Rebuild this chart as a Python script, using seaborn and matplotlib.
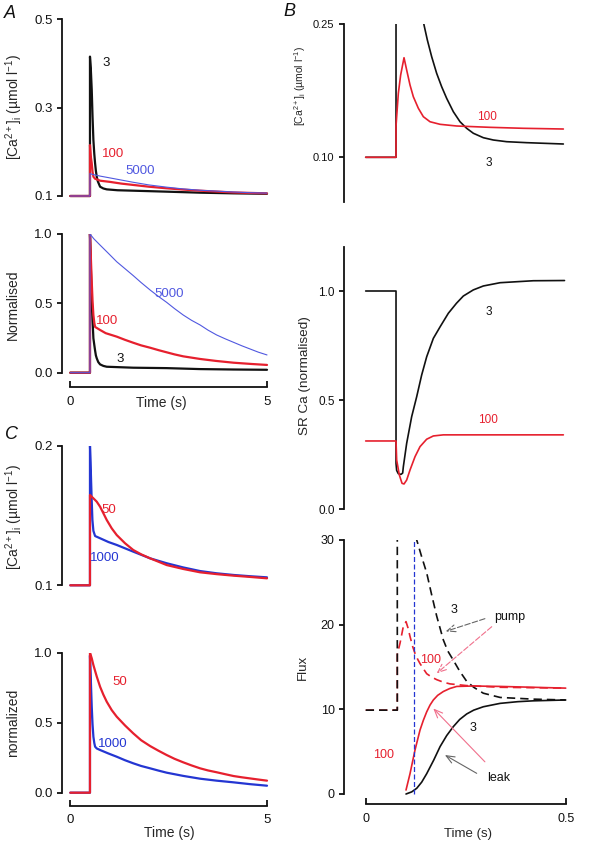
"""
Ca2+ transient simulations: panels A, B and C
Recreated as a multi-axes seaborn/matplotlib figure, saved to out.png.
"""

import matplotlib
matplotlib.use("Agg")
import matplotlib.pyplot as plt
import seaborn as sns

# ── Data ─────────────────────────────────────────────────────────────────────

# Panel A, top: [Ca2+]i (umol/l) vs time (s)
A_TOP_T_3 = [0, 0.5, 0.5, 0.52, 0.545, 0.565, 0.587, 0.61, 0.63, 0.65, 0.672, 0.70, 0.757, 0.84, 0.926,
             1.2, 1.6, 2.45, 3.3, 4.15, 5.0]
A_TOP_Y_3 = [0.1, 0.1, 0.415, 0.39, 0.34, 0.28, 0.2265, 0.195, 0.174, 0.157, 0.1436, 0.133, 0.121, 0.117,
             0.115, 0.113, 0.112, 0.1098, 0.1075, 0.106, 0.105]
A_TOP_T_100 = [0, 0.5, 0.5, 0.52, 0.545, 0.565, 0.587, 0.63, 0.672, 0.757, 1.0, 1.3, 1.6, 2.0, 2.45, 2.87,
               3.3, 3.72, 4.15, 4.57, 5.0]
A_TOP_Y_100 = [0.1, 0.1, 0.215, 0.19, 0.174, 0.155, 0.1436, 0.139, 0.1376, 0.1346, 0.132, 0.128, 0.125,
               0.121, 0.1174, 0.1145, 0.112, 0.110, 0.108, 0.107, 0.106]
A_TOP_T_5000 = [0, 0.5, 0.5, 0.55, 0.757, 1.0, 1.3, 1.6, 2.0, 2.45, 2.87, 3.3, 3.72, 4.15, 4.57, 5.0]
A_TOP_Y_5000 = [0.1, 0.1, 0.151, 0.149, 0.145, 0.141, 0.136, 0.131, 0.125, 0.12, 0.116, 0.113, 0.111,
                0.109, 0.1075, 0.1065]

# Panel A, bottom: normalised transients
A_BOT_T_3 = [0, 0.5, 0.5, 0.52, 0.545, 0.565, 0.587, 0.61, 0.63, 0.65, 0.672, 0.71, 0.757, 0.84, 0.926,
             1.6, 2.45, 3.3, 4.15, 5.0]
A_BOT_Y_3 = [0, 0, 1.0, 0.78, 0.536, 0.38, 0.248, 0.2, 0.16, 0.125, 0.104, 0.077, 0.06, 0.049, 0.043,
             0.036, 0.033, 0.026, 0.023, 0.021]
A_BOT_T_100 = [0, 0.5, 0.5, 0.52, 0.545, 0.565, 0.587, 0.61, 0.63, 0.757, 0.9, 1.18, 1.39, 1.6, 1.8, 2.03,
               2.25, 2.45, 2.65, 2.87, 3.3, 3.7, 4.15, 4.6, 5.0]
A_BOT_Y_100 = [0, 0, 1.0, 0.85, 0.656, 0.52, 0.416, 0.36, 0.33, 0.308, 0.285, 0.26, 0.237, 0.216, 0.197,
               0.18, 0.162, 0.147, 0.132, 0.118, 0.099, 0.085, 0.072, 0.063, 0.056]
A_BOT_T_5000 = [0, 0.5, 0.5, 0.6, 0.757, 0.97, 1.18, 1.39, 1.6, 1.8, 2.03, 2.24, 2.45, 2.65, 2.87, 3.08,
                3.3, 3.5, 3.72, 3.94, 4.15, 4.36, 4.57, 4.78, 5.0]
A_BOT_Y_5000 = [0, 0, 1.0, 0.965, 0.92, 0.86, 0.80, 0.75, 0.70, 0.65, 0.596, 0.55, 0.507, 0.462, 0.416,
                0.378, 0.344, 0.307, 0.272, 0.244, 0.219, 0.194, 0.171, 0.148, 0.128]

# Panel C, top: [Ca2+]i (umol/l)
C_TOP_T_50 = [0, 0.5, 0.5, 0.587, 0.672, 0.757, 0.841, 0.926, 1.053, 1.18, 1.392, 1.6, 1.8, 2.03, 2.45,
              2.87, 3.3, 3.72, 4.15, 4.57, 5.0]
C_TOP_Y_50 = [0.1, 0.1, 0.1647, 0.1623, 0.1599, 0.1563, 0.1516, 0.1468, 0.1408, 0.136, 0.1301, 0.1253,
              0.1222, 0.1193, 0.1145, 0.1117, 0.1093, 0.108, 0.1069, 0.106, 0.105]
C_TOP_T_1000 = [0, 0.5, 0.5, 0.515, 0.528, 0.545, 0.562, 0.587, 0.63, 0.757, 0.97, 1.18, 1.39, 1.6, 2.03,
                2.45, 2.87, 3.3, 3.72, 4.15, 4.57, 5.0]
C_TOP_Y_1000 = [0.1, 0.1, 0.2, 0.188, 0.1754, 0.16, 0.1468, 0.139, 0.1353, 0.1337, 0.131, 0.1289, 0.1265,
                0.1241, 0.1193, 0.1158, 0.1128, 0.1102, 0.1086, 0.1074, 0.1065, 0.1057]

# Panel C, bottom: normalised
C_BOT_T_50 = [0, 0.5, 0.5, 0.545, 0.587, 0.672, 0.757, 0.841, 0.926, 1.053, 1.18, 1.392, 1.6, 1.8, 2.03,
              2.24, 2.45, 2.65, 2.87, 3.08, 3.3, 3.5, 3.72, 3.94, 4.15, 4.36, 4.57, 4.78, 5.0]
C_BOT_Y_50 = [0, 0, 1.0, 0.96, 0.912, 0.83, 0.757, 0.70, 0.65, 0.59, 0.543, 0.48, 0.424, 0.375, 0.333,
              0.30, 0.269, 0.242, 0.217, 0.195, 0.174, 0.159, 0.146, 0.132, 0.119, 0.110, 0.102, 0.094, 0.086]
C_BOT_T_1000 = [0, 0.5, 0.5, 0.52, 0.545, 0.565, 0.587, 0.61, 0.63, 0.672, 0.757, 0.97, 1.18, 1.39, 1.6,
                1.8, 2.03, 2.24, 2.45, 2.87, 3.3, 3.72, 4.15, 4.57, 5.0]
C_BOT_Y_1000 = [0, 0, 0.98, 0.82, 0.614, 0.49, 0.4, 0.355, 0.329, 0.316, 0.305, 0.28, 0.257, 0.232, 0.21,
                0.191, 0.174, 0.158, 0.143, 0.12, 0.1, 0.086, 0.074, 0.061, 0.05]

# Panel B, top: [Ca2+]i (umol/l), first 0.5 s
B_TOP_T_3 = [0, 0.0758, 0.0758, 0.09, 0.11, 0.13, 0.1458, 0.1541, 0.1649, 0.1774, 0.1899, 0.2024, 0.2191,
             0.2358, 0.2524, 0.2691, 0.2941, 0.3191, 0.3524, 0.4024, 0.4941]
B_TOP_Y_3 = [0.1, 0.1, 0.40, 0.41, 0.36, 0.29, 0.2492, 0.2323, 0.2135, 0.1947, 0.1796, 0.1665, 0.1514,
             0.1401, 0.1327, 0.1271, 0.1221, 0.1195, 0.1176, 0.1165, 0.115]
B_TOP_T_100 = [0, 0.0758, 0.0758, 0.0774, 0.0816, 0.0874, 0.0958, 0.1024, 0.1108, 0.1191, 0.1316, 0.1441,
               0.1608, 0.1858, 0.2274, 0.3108, 0.3941, 0.4941]
B_TOP_Y_100 = [0.1, 0.1, 0.135, 0.1458, 0.1722, 0.1928, 0.2123, 0.1985, 0.1815, 0.1683, 0.1553, 0.1458,
               0.1401, 0.1372, 0.1353, 0.1338, 0.1327, 0.1319]

# Panel B, middle: SR Ca (normalised)
B_MID_T_3 = [0, 0.0758, 0.0758, 0.0774, 0.0816, 0.0883, 0.0924, 0.0941, 0.1024, 0.1149, 0.1275, 0.1399,
             0.1525, 0.1691, 0.186, 0.2066, 0.227, 0.2441, 0.269, 0.2941, 0.336, 0.419, 0.497]
B_MID_Y_3 = [1.0, 1.0, 0.21, 0.178, 0.163, 0.160, 0.166, 0.195, 0.302, 0.424, 0.516, 0.615, 0.699, 0.783,
             0.836, 0.898, 0.944, 0.977, 1.005, 1.023, 1.038, 1.047, 1.048]
B_MID_T_100 = [0, 0.0758, 0.0774, 0.0841, 0.0908, 0.0958, 0.1024, 0.1108, 0.1233, 0.1358, 0.1524, 0.1691,
               0.1941, 0.4941]
B_MID_Y_100 = [0.313, 0.313, 0.226, 0.157, 0.119, 0.116, 0.134, 0.18, 0.241, 0.287, 0.321, 0.336, 0.341,
               0.341]

# Panel B, bottom: fluxes (pump dashed, leak solid)
B_PUMP_T_3 = [0, 0.079, 0.079, 0.10, 0.115, 0.1275, 0.14, 0.1525, 0.165, 0.1775, 0.194, 0.205, 0.219,
              0.235, 0.2525, 0.27, 0.294, 0.336, 0.419, 0.5]
B_PUMP_Y_3 = [9.9, 9.9, 60, 45, 36, 30, 28.0, 26.1, 23.5, 21, 18.2, 16.9, 15.8, 14.5, 13.3, 12.6, 11.9,
              11.4, 11.2, 11.1]
B_PUMP_T_100 = [0, 0.079, 0.079, 0.0858, 0.0941, 0.1008, 0.1058, 0.1108, 0.1175, 0.1233, 0.13, 0.1358,
                0.144, 0.1525, 0.165, 0.1775, 0.1941, 0.2108, 0.2525, 0.336, 0.5]
B_PUMP_Y_100 = [9.9, 9.9, 16.5, 17.8, 19.8, 20.35, 19.6, 18.6, 17.4, 16.6, 15.9, 15.4, 14.8, 14.2, 13.8,
                13.5, 13.2, 13.0, 12.8, 12.6, 12.5]
B_LEAK_T_3 = [0.1008, 0.115, 0.1275, 0.14, 0.1525, 0.17, 0.186, 0.2025, 0.219, 0.235, 0.2525, 0.27, 0.294,
              0.336, 0.38, 0.419, 0.5]
B_LEAK_Y_3 = [0, 0.25, 0.67, 1.4, 2.4, 4.0, 5.6, 6.9, 7.95, 8.8, 9.45, 9.9, 10.3, 10.7, 10.9, 11.0, 11.1]
B_LEAK_T_100 = [0.1008, 0.1108, 0.1233, 0.1358, 0.1441, 0.1525, 0.1608, 0.1691, 0.18, 0.1941, 0.21, 0.2275,
                0.2691, 0.336, 0.5]
B_LEAK_Y_100 = [0.47, 2.4, 5.2, 7.55, 8.7, 9.7, 10.5, 11.1, 11.65, 12.1, 12.45, 12.7, 12.75, 12.7, 12.5]
B_MARK_T = [0.12, 0.12]
B_MARK_Y = [0, 30]

# ── Style ────────────────────────────────────────────────────────────────────

sns.set_style("ticks")
plt.rcParams["font.family"] = ["Liberation Sans", "DejaVu Sans"]
plt.rcParams["mathtext.fontset"] = "custom"
plt.rcParams["mathtext.rm"] = "Liberation Sans"
plt.rcParams["mathtext.it"] = "Liberation Sans:italic"
plt.rcParams["mathtext.default"] = "regular"

BLACK = "#111111"
RED = "#e6202e"
BLUE_A = "#5058e0"
BLUE_C = "#2436d2"
PINK = "#f0708c"
GREY = "#666666"

W, H = 602, 842
CA_LABEL = "[Ca$^{2+}$]$_{i}$ (µmol l$^{-1}$)"

fig = plt.figure(figsize=(W / 100, H / 100), dpi=100)


def make_axes(xlim, ylim, x0px, xs, y0px, y0val, ys):
    """Place an axes so that data maps onto the reference pixel grid."""
    l = x0px + xlim[0] * xs
    r = x0px + xlim[1] * xs
    t = y0px - (ylim[1] - y0val) * ys
    b = y0px - (ylim[0] - y0val) * ys
    ax = fig.add_axes([l / W, 1 - b / H, (r - l) / W, (b - t) / H])
    ax.set_xlim(*xlim)
    ax.set_ylim(*ylim)
    ax.set_facecolor("none")
    sns.despine(ax=ax)
    for s in ("left", "bottom"):
        ax.spines[s].set_linewidth(1.3)
        ax.spines[s].set_color(BLACK)
    ax.tick_params(width=1.3, length=3.5, color=BLACK, labelcolor=BLACK)
    ax._px = (l, t, r, b)
    return ax


def no_xaxis(ax):
    ax.spines["bottom"].set_visible(False)
    ax.set_xticks([])


def set_ylabel_px(ax, text, fs, cx, cy):
    l, t, r, b = ax._px
    ax.set_ylabel(text, fontsize=fs)
    ax.yaxis.set_label_coords((cx - l) / (r - l), (b - cy) / (b - t))
    ax.yaxis.label.set_va("center")


def set_xlabel_px(ax, cx, cy):
    l, t, r, b = ax._px
    ax.xaxis.set_label_coords((cx - l) / (r - l), (b - cy) / (b - t))
    ax.xaxis.label.set_va("center")


def time_axis(ax, ticks, labels, fs, label_px):
    ax.spines["bottom"].set_bounds(ticks[0], ticks[-1])
    ax.set_xticks(ticks, labels)
    ax.tick_params(axis="x", direction="in", length=4.5, labelsize=fs, pad=6)
    ax.set_xlabel("Time (s)", fontsize=fs + 0.5)
    set_xlabel_px(ax, *label_px)


def line(ax, t, y, color, lw, ls="-"):
    sns.lineplot(x=t, y=y, ax=ax, color=color, linewidth=lw, linestyle=ls,
                 estimator=None, sort=False, legend=False)


def arrow(ax, head, tail, color, ls="-"):
    ax.annotate("", xy=head, xytext=tail,
                arrowprops=dict(arrowstyle="->,head_length=0.6,head_width=0.25",
                                color=color, lw=0.8, linestyle=ls,
                                shrinkA=0, shrinkB=0))


# ── Panel A ──────────────────────────────────────────────────────────────────

FS = 9.5
ax = make_axes((-0.2, 5.1), (0.09, 0.5), 70.3, 39.34, 196, 0.1, 442.5)
line(ax, A_TOP_T_3, A_TOP_Y_3, BLACK, 1.6)
line(ax, A_TOP_T_100, A_TOP_Y_100, RED, 1.6)
line(ax, A_TOP_T_5000, A_TOP_Y_5000, BLUE_A, 0.8)
no_xaxis(ax)
ax.spines["left"].set_bounds(0.1, 0.5)
ax.set_yticks([0.1, 0.3, 0.5], ["0.1", "0.3", "0.5"])
ax.tick_params(axis="y", labelsize=FS)
set_ylabel_px(ax, CA_LABEL, 10, 14, 107)
ax.text(0.92, 0.40, "3", color=BLACK, fontsize=FS, ha="center", va="center")
ax.text(1.08, 0.196, "100", color=RED, fontsize=FS, ha="center", va="center")
ax.text(1.77, 0.157, "5000", color=BLUE_A, fontsize=FS, ha="center", va="center")

ax = make_axes((-0.2, 5.1), (-0.105, 1.0), 70.3, 39.34, 372.7, 0.0, 138.7)
line(ax, A_BOT_T_3, A_BOT_Y_3, BLACK, 1.6)
line(ax, A_BOT_T_100, A_BOT_Y_100, RED, 1.6)
line(ax, A_BOT_T_5000, A_BOT_Y_5000, BLUE_A, 0.8)
ax.spines["left"].set_bounds(0, 1.0)
ax.set_yticks([0, 0.5, 1.0], ["0.0", "0.5", "1.0"])
ax.tick_params(axis="y", labelsize=FS)
time_axis(ax, [0, 5], ["0", "5"], FS, (161, 403))
set_ylabel_px(ax, "Normalised", 10, 13, 305)
ax.text(2.52, 0.565, "5000", color=BLUE_A, fontsize=FS, ha="center", va="center")
ax.text(0.94, 0.37, "100", color=RED, fontsize=FS, ha="center", va="center")
ax.text(1.26, 0.1, "3", color=BLACK, fontsize=FS, ha="center", va="center")

# ── Panel C ──────────────────────────────────────────────────────────────────

ax = make_axes((-0.2, 5.1), (0.095, 0.2), 70.3, 39.34, 585.3, 0.1, 1396)
line(ax, C_TOP_T_1000, C_TOP_Y_1000, BLUE_C, 1.6)
line(ax, C_TOP_T_50, C_TOP_Y_50, RED, 1.6)
no_xaxis(ax)
ax.spines["left"].set_bounds(0.1, 0.2)
ax.set_yticks([0.1, 0.2], ["0.1", "0.2"])
ax.tick_params(axis="y", labelsize=FS)
set_ylabel_px(ax, CA_LABEL, 10, 14, 517)
ax.text(0.99, 0.1539, "50", color=RED, fontsize=FS, ha="center", va="center")
ax.text(0.88, 0.1194, "1000", color=BLUE_C, fontsize=FS, ha="center", va="center")

ax = make_axes((-0.2, 5.1), (-0.093, 1.0), 70.3, 39.34, 792.7, 0.0, 140)
line(ax, C_BOT_T_1000, C_BOT_Y_1000, BLUE_C, 1.6)
line(ax, C_BOT_T_50, C_BOT_Y_50, RED, 1.6)
ax.spines["left"].set_bounds(0, 1.0)
ax.set_yticks([0, 0.5, 1.0], ["0.0", "0.5", "1.0"])
ax.tick_params(axis="y", labelsize=FS)
time_axis(ax, [0, 5], ["0", "5"], FS, (169, 833))
set_ylabel_px(ax, "normalized", 10, 13, 723)
ax.text(1.26, 0.79, "50", color=RED, fontsize=FS, ha="center", va="center")
ax.text(1.08, 0.345, "1000", color=BLUE_C, fontsize=FS, ha="center", va="center")

# ── Panel B ──────────────────────────────────────────────────────────────────

FSB = 8.5
BX = ((-0.0535, 0.51), 365.7, 400)

ax = make_axes(BX[0], (0.05, 0.25), BX[1], BX[2], 157.3, 0.10, 886.7)
line(ax, B_TOP_T_3, B_TOP_Y_3, BLACK, 1.2)
line(ax, B_TOP_T_100, B_TOP_Y_100, RED, 1.2)
no_xaxis(ax)
ax.set_yticks([0.10, 0.25], ["0.10", "0.25"])
ax.tick_params(axis="y", labelsize=FSB - 0.5)
set_ylabel_px(ax, CA_LABEL, 7.5, 300, 86)
ax.text(0.3027, 0.1451, "100", color=RED, fontsize=FSB, ha="center", va="center")
ax.text(0.3065, 0.0940, "3", color=BLACK, fontsize=FSB, ha="center", va="center")

ax = make_axes(BX[0], (0, 1.2), BX[1], BX[2], 509.3, 0.0, 218.3)
line(ax, B_MID_T_3, B_MID_Y_3, BLACK, 1.2)
line(ax, B_MID_T_100, B_MID_Y_100, RED, 1.2)
no_xaxis(ax)
ax.set_yticks([0, 0.5, 1.0], ["0.0", "0.5", "1.0"])
ax.tick_params(axis="y", labelsize=FSB)
set_ylabel_px(ax, "SR Ca (normalised)", 9.7, 305, 376)
ax.text(0.3065, 0.905, "3", color=BLACK, fontsize=FSB, ha="center", va="center")
ax.text(0.3065, 0.409, "100", color=RED, fontsize=FSB, ha="center", va="center")

ax = make_axes(BX[0], (-1.22, 30), BX[1], BX[2], 794, 0.0, 8.47)
line(ax, B_PUMP_T_100, B_PUMP_Y_100, RED, 1.2, ls=(0, (5, 3)))
line(ax, B_PUMP_T_3, B_PUMP_Y_3, BLACK, 1.2, ls=(0, (5, 3)))
line(ax, B_LEAK_T_3, B_LEAK_Y_3, BLACK, 1.2)
line(ax, B_LEAK_T_100, B_LEAK_Y_100, RED, 1.2)
line(ax, B_MARK_T, B_MARK_Y, BLUE_C, 0.9, ls=(0, (4, 2)))
ax.spines["left"].set_bounds(0, 30)
ax.set_yticks([0, 10, 20, 30], ["0", "10", "20", "30"])
ax.tick_params(axis="y", labelsize=FSB + 0.5)
time_axis(ax, [0, 0.5], ["0", "0.5"], FSB + 0.5, (468, 834))
set_ylabel_px(ax, "Flux", 9.5, 303, 667)

ax.text(0.221, 21.7, "3", color=BLACK, fontsize=FSB + 0.5, ha="center", va="center")
ax.text(0.361, 20.9, "pump", color=BLACK, fontsize=FSB + 0.5, ha="center", va="center")
ax.text(0.161, 15.8, "100", color=RED, fontsize=FSB + 0.5, ha="center", va="center")
ax.text(0.269, 7.76, "3", color=BLACK, fontsize=FSB + 0.5, ha="center", va="center")
ax.text(0.044, 4.6, "100", color=RED, fontsize=FSB + 0.5, ha="center", va="center")
ax.text(0.3315, 1.85, "leak", color=BLACK, fontsize=FSB + 0.5, ha="center", va="center")
arrow(ax, (0.2, 19.2), (0.298, 20.7), GREY, ls=(0, (5, 2)))
arrow(ax, (0.1775, 14.25), (0.315, 19.75), PINK, ls=(0, (5, 2)))
arrow(ax, (0.169, 10.1), (0.298, 3.8), PINK)
arrow(ax, (0.198, 4.6), (0.2775, 2.44), GREY)

# ── Panel letters ────────────────────────────────────────────────────────────

for letter, (px, py) in {"A": (10, 13), "B": (289, 12), "C": (12, 434)}.items():
    fig.text(px / W, 1 - py / H, letter, fontsize=13, fontstyle="italic",
             ha="center", va="center", color=BLACK)

fig.savefig("out.png", dpi=100)
